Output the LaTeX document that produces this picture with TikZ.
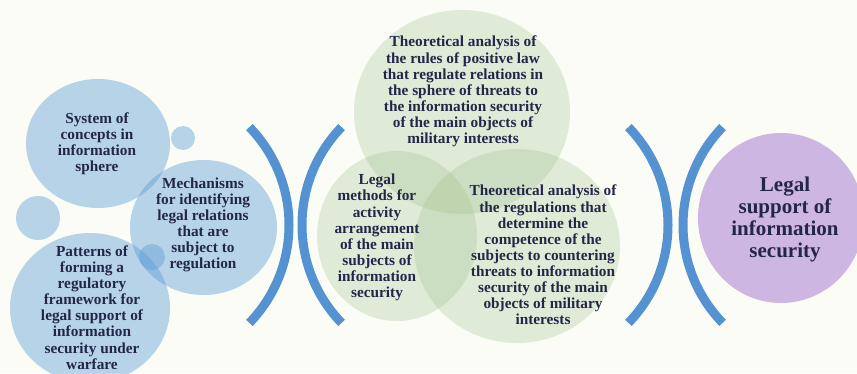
\documentclass[tikz,border=0pt]{standalone}
\usepackage{fontspec}
\setmainfont{Liberation Serif}
\definecolor{bgc}{RGB}{250,252,245}
\definecolor{blueb}{RGB}{91,155,213}
\definecolor{greenb}{RGB}{150,188,130}
\definecolor{purp}{RGB}{205,182,226}
\definecolor{arcb}{RGB}{84,146,210}
\definecolor{txt}{RGB}{35,38,72}
\begin{document}
\begin{tikzpicture}[x=1pt,y=-1pt,
  bluec/.style={fill=blueb,fill opacity=0.42},
  greenc/.style={fill=greenb,fill opacity=0.26},
  purc/.style={fill=purp},
  bracket/.style={draw=arcb,line width=9pt},
  lbl/.style={text=txt,font=\bfseries\fontsize{15.3}{16.1}\selectfont,align=center,inner sep=0pt},
  biglbl/.style={text=txt,font=\bfseries\fontsize{21}{22}\selectfont,align=center,inner sep=0pt}]
\useasboundingbox (0,0) rectangle (857,373);
\fill[bgc] (0,0) rectangle (857,373);
\clip (0,0) rectangle (857,373);
% blue circles
\fill[bluec] (98,143.5) ellipse[x radius=72,y radius=64.5];
\fill[bluec] (183,138) circle[radius=12];
\fill[bluec] (38,218) circle[radius=22];
\fill[bluec] (203.5,227.5) ellipse[x radius=73.5,y radius=67.5];
\fill[bluec] (90,308) ellipse[x radius=80,y radius=75];
\fill[bluec] (152,257) circle[radius=13];
% green circles
\fill[greenc] (462,112) ellipse[x radius=108,y radius=102];
\fill[greenc] (397,236) ellipse[x radius=80,y radius=85];
\fill[greenc] (517,246) ellipse[x radius=103,y radius=97];
% purple circle
\fill[purc] (781,218) ellipse[x radius=83,y radius=85];
% brackets
\coordinate (b1t) at (249.4,127.1); \coordinate (b1b) at (249.4,322.9);
\coordinate (b2t) at (341.6,127.1); \coordinate (b2b) at (341.6,322.9);
\coordinate (b3t) at (628.4,127.1); \coordinate (b3b) at (628.4,322.9);
\coordinate (b4t) at (722.6,127.1); \coordinate (b4b) at (722.6,322.9);
\draw[bracket] (b1t) .. controls (302.2,181.7) and (302.2,268.3) .. (b1b);
\draw[bracket] (b2t) .. controls (288.8,181.7) and (288.8,268.3) .. (b2b);
\draw[bracket] (b3t) .. controls (681.2,181.7) and (681.2,268.3) .. (b3b);
\draw[bracket] (b4t) .. controls (669.8,181.7) and (669.8,268.3) .. (b4b);
% labels
\node[lbl] (t1) at (97,144) {System of\\concepts in\\information\\sphere};
\node[lbl] (t2) at (203,225) {Mechanisms\\for identifying\\legal relations\\that are\\subject to\\regulation};
\node[lbl] (t3) at (92,307.5) {Patterns of\\forming a\\regulatory\\framework for\\legal support of\\information\\security under\\warfare};
\node[lbl] (t4) at (463,91.5) {Theoretical analysis of\\the rules of positive law\\that regulate relations in\\the sphere of threats to\\the information security\\of the main objects of\\military interests};
\node[lbl] (t5) at (377,237.5) {Legal\\methods for\\activity\\arrangement\\of the main\\subjects of\\information\\security};
\node[lbl] (t6) at (543,255) {Theoretical analysis of\\the regulations that\\determine the\\competence of the\\subjects to countering\\threats to information\\security of the main\\objects of military\\interests};
\node[biglbl] (t7) at (785,219.5) {Legal\\support of\\information\\security};
\end{tikzpicture}
\end{document}
